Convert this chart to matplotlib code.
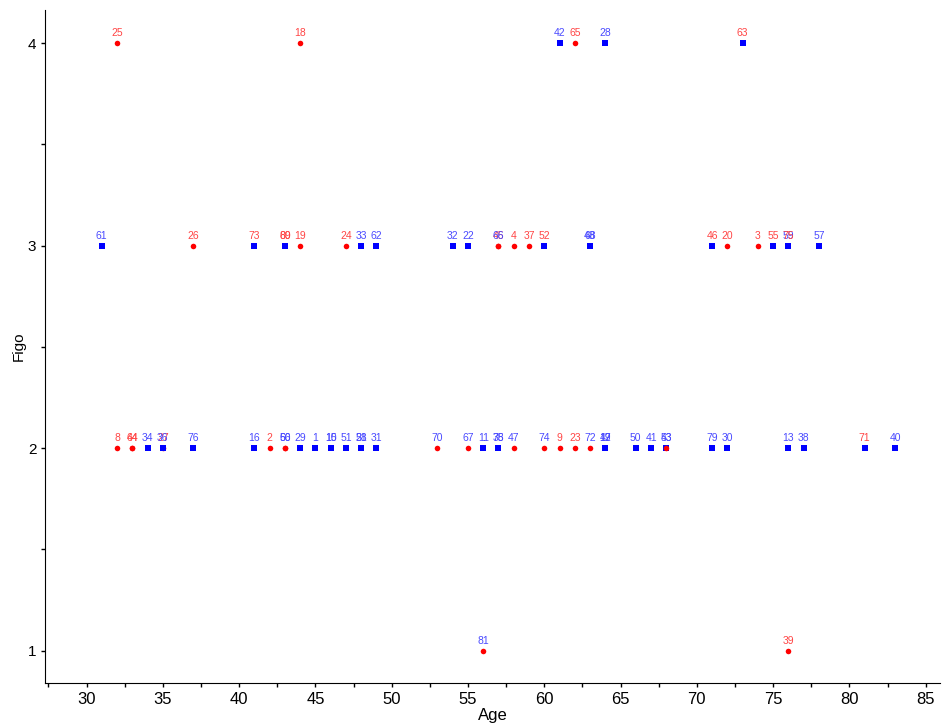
import matplotlib
matplotlib.use('Agg')
import matplotlib.pyplot as plt
from matplotlib.ticker import MultipleLocator

plt.rcParams['font.family'] = ['Liberation Sans Narrow', 'Liberation Sans', 'DejaVu Sans']

# case id, age, figo stage, marker group (r = circle, b = square), label colour group
case_id = [25, 18, 42, 65, 28, 63,
           61, 26, 73, 69, 80, 19, 24, 33, 62, 32, 22, 45, 66, 4, 37, 52,
           48, 68, 46, 20, 3, 55, 59, 75, 57,
           8, 44, 64, 34, 27, 36, 76, 16, 2, 56, 60, 29, 1, 10, 15, 51, 21, 58,
           31, 70, 67, 11, 35, 78, 47, 74, 9, 23, 72, 12, 17, 49, 50, 41, 53, 43,
           79, 30, 13, 38, 71, 40,
           81, 39]
age = [32, 44, 61, 62, 64, 73,
       31, 37, 41, 43, 43, 44, 47, 48, 49, 54, 55, 57, 57, 58, 59, 60,
       63, 63, 71, 72, 74, 75, 76, 76, 78,
       32, 33, 33, 34, 35, 35, 37, 41, 42, 43, 43, 44, 45, 46, 46, 47, 48, 48,
       49, 53, 55, 56, 57, 57, 58, 60, 61, 62, 63, 64, 64, 64, 66, 67, 68, 68,
       71, 72, 76, 77, 81, 83,
       56, 76]
figo = [4, 4, 4, 4, 4, 4,
        3, 3, 3, 3, 3, 3, 3, 3, 3, 3, 3, 3, 3, 3, 3, 3,
        3, 3, 3, 3, 3, 3, 3, 3, 3,
        2, 2, 2, 2, 2, 2, 2, 2, 2, 2, 2, 2, 2, 2, 2, 2, 2, 2,
        2, 2, 2, 2, 2, 2, 2, 2, 2, 2, 2, 2, 2, 2, 2, 2, 2, 2,
        2, 2, 2, 2, 2, 2,
        1, 1]
marker_grp = ['r', 'r', 'b', 'r', 'b', 'b',
              'b', 'r', 'b', 'b', 'b', 'r', 'r', 'b', 'b', 'b', 'b', 'r', 'r', 'r', 'r', 'b',
              'b', 'b', 'b', 'r', 'r', 'b', 'b', 'b', 'b',
              'r', 'r', 'r', 'b', 'r', 'b', 'b', 'b', 'r', 'r', 'r', 'b', 'b', 'b', 'b', 'b', 'b', 'b',
              'b', 'r', 'r', 'b', 'b', 'b', 'r', 'r', 'r', 'r', 'r', 'b', 'b', 'b', 'b', 'b', 'b', 'r',
              'b', 'b', 'b', 'b', 'b', 'b',
              'r', 'r']
label_grp = ['r', 'r', 'b', 'r', 'b', 'r',
             'b', 'r', 'r', 'r', 'r', 'r', 'r', 'b', 'b', 'b', 'b', 'r', 'b', 'r', 'r', 'r',
             'b', 'b', 'r', 'r', 'r', 'r', 'b', 'r', 'b',
             'r', 'r', 'r', 'b', 'r', 'b', 'b', 'b', 'r', 'b', 'b', 'b', 'b', 'b', 'b', 'b', 'b', 'b',
             'b', 'b', 'b', 'b', 'b', 'b', 'b', 'b', 'r', 'r', 'b', 'b', 'b', 'b', 'b', 'b', 'b', 'b',
             'b', 'b', 'b', 'b', 'r', 'b',
             'b', 'r']

marker_col = {'r': '#ff0000', 'b': '#0000ff'}
marker_shape = {'r': 'o', 'b': 's'}
text_col = {'r': '#ff4545', 'b': '#4a4aff'}

fig = plt.figure(figsize=(9.44, 7.24), dpi=100)
ax = fig.add_axes([0.048, 0.057, 0.948, 0.929])

for i in range(len(case_id)):
    g = marker_grp[i]
    ax.plot(age[i], figo[i], marker_shape[g], color=marker_col[g],
            markersize=4 if g == 'r' else 4.2, markeredgewidth=0)
    ax.annotate(str(case_id[i]), (age[i], figo[i]), xytext=(0, 3.5),
                textcoords='offset points', ha='center', va='bottom',
                fontsize=7.5, color=text_col[label_grp[i]],
                family=['Liberation Sans', 'DejaVu Sans'])

ax.set_xlim(27.3, 85.95)
ax.set_ylim(0.842, 4.163)
ax.xaxis.set_major_locator(MultipleLocator(5))
ax.xaxis.set_minor_locator(MultipleLocator(2.5))
ax.yaxis.set_major_locator(MultipleLocator(1))
ax.yaxis.set_minor_locator(MultipleLocator(0.5))
ax.tick_params(which='both', direction='out', length=3, width=1, labelsize=12)
ax.tick_params(axis='y', labelsize=11)

for s in ['top', 'right']:
    ax.spines[s].set_visible(False)

ax.set_xlabel('Age', fontsize=12, labelpad=1)
ax.set_ylabel('Figo', fontsize=11)
ax.yaxis.set_label_coords(-0.022, 0.5)

fig.savefig('out.png', dpi=100)
